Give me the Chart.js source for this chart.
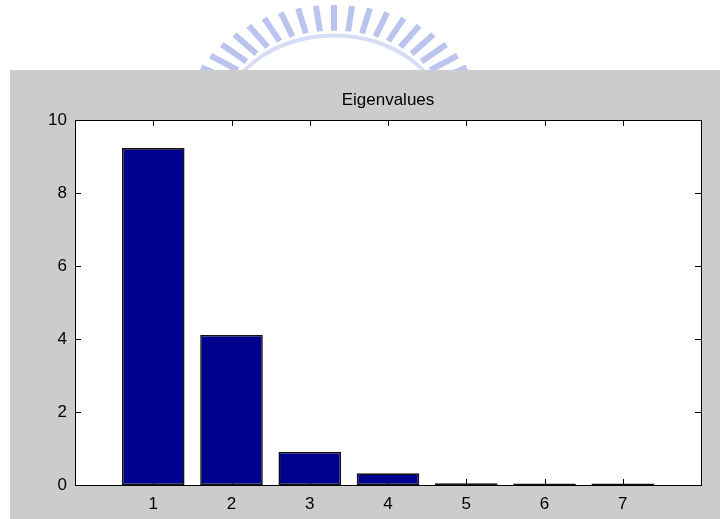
<!DOCTYPE html>
<html>
<head>
<meta charset="utf-8">
<title>Eigenvalues</title>
<script src="https://cdn.jsdelivr.net/npm/chart.js@4.4.0/dist/chart.umd.min.js"></script>
<style>
  html, body { margin: 0; padding: 0; background: #fff; }
  #chart { display: block; }
</style>
</head>
<body>
<canvas id="chart" width="720" height="519"></canvas>
<script>
// --- Data ---
const categories  = [1, 2, 3, 4, 5, 6, 7];
const eigenvalues = [9.23, 4.11, 0.91, 0.32, 0.05, 0.04, 0.04];
const yTicks      = [0, 2, 4, 6, 8, 10];
const xRange      = [0, 8];

const FONT = '"Liberation Sans", Arial, Helvetica, sans-serif';
const FIG_GRAY = '#cccccc';
const BAR_BLUE = '#00008f';

// figure background, watermark, white axes area
const backdrop = {
  id: 'backdrop',
  beforeDraw(chart) {
    const { ctx, chartArea: a } = chart;
    ctx.save();
    ctx.fillStyle = '#fff';
    ctx.fillRect(0, 0, chart.width, chart.height);

    // light blue watermark arch (logo behind the figure)
    ctx.strokeStyle = 'rgba(140,156,226,0.6)';
    ctx.lineWidth = 6;
    const cx = 334, cy = 122, rx = 150, ry = 117;
    for (let i = 0; i <= 26; i++) {
      const t = Math.PI + (i / 26) * Math.PI;
      const c = Math.cos(t), s = Math.sin(t);
      ctx.beginPath();
      ctx.moveTo(cx + c * rx * 0.78, cy + s * ry * 0.78);
      ctx.lineTo(cx + c * rx, cy + s * ry);
      ctx.stroke();
    }
    ctx.strokeStyle = 'rgba(175,188,236,0.5)';
    ctx.lineWidth = 4;
    ctx.beginPath();
    ctx.ellipse(cx, cy, rx * 0.74, ry * 0.74, 0, Math.PI, 2 * Math.PI);
    ctx.stroke();

    ctx.fillStyle = FIG_GRAY;
    ctx.fillRect(10, 70, chart.width - 10, chart.height - 70);

    ctx.fillStyle = '#fff';
    ctx.fillRect(a.left, a.top, a.right - a.left, a.bottom - a.top);
    ctx.restore();
  }
};

// MATLAB style inward ticks on all four sides, drawn under the bars
const insideTicks = {
  id: 'insideTicks',
  beforeDatasetsDraw(chart) {
    const { ctx, chartArea: a, scales: { x, y } } = chart;
    const len = 6;
    ctx.save();
    ctx.strokeStyle = '#000';
    ctx.lineWidth = 1;
    ctx.beginPath();
    yTicks.forEach(v => {
      const py = Math.round(y.getPixelForValue(v)) + 0.5;
      ctx.moveTo(a.left, py);  ctx.lineTo(a.left + len, py);
      ctx.moveTo(a.right, py); ctx.lineTo(a.right - len, py);
    });
    categories.forEach(v => {
      const px = Math.round(x.getPixelForValue(v)) + 0.5;
      ctx.moveTo(px, a.bottom); ctx.lineTo(px, a.bottom - len);
      ctx.moveTo(px, a.top);    ctx.lineTo(px, a.top + len);
    });
    ctx.stroke();
    ctx.restore();
  },
  afterDatasetsDraw(chart) {
    const { ctx, chartArea: a } = chart;
    ctx.save();
    ctx.strokeStyle = '#000';
    ctx.lineWidth = 1;
    ctx.strokeRect(Math.round(a.left) + 0.5, Math.round(a.top) + 0.5,
                   Math.round(a.right - a.left), Math.round(a.bottom - a.top));
    ctx.restore();
  }
};

new Chart(document.getElementById('chart'), {
  type: 'bar',
  data: {
    datasets: [{
      label: 'Eigenvalues',
      data: categories.map((c, i) => ({ x: c, y: eigenvalues[i] })),
      backgroundColor: BAR_BLUE,
      borderColor: '#111',
      borderWidth: 1.6,
      borderSkipped: false,
      barPercentage: 0.8,
      categoryPercentage: 1.0,
    }]
  },
  options: {
    responsive: false,
    animation: false,
    layout: { padding: { left: 0, right: 19, top: 0, bottom: 0 } },
    plugins: {
      legend: { display: false },
      tooltip: { enabled: false },
      title: {
        display: true,
        text: 'Eigenvalues',
        fullSize: false,
        color: '#000',
        font: { family: FONT, size: 17, weight: 'normal', lineHeight: 1.2 },
        padding: { top: 90, bottom: 9.6 }
      }
    },
    scales: {
      x: {
        type: 'linear',
        min: xRange[0],
        max: xRange[1],
        offset: false,
        grid: { display: false, drawTicks: false, offset: false },
        border: { display: false },
        ticks: {
          stepSize: 1,
          padding: 9,
          color: '#000',
          font: { family: FONT, size: 17 },
          callback: v => categories.includes(v) ? String(v) : ''
        },
        afterFit: s => { s.height = 34; }
      },
      y: {
        min: yTicks[0],
        max: yTicks[yTicks.length - 1],
        grid: { display: false, drawTicks: false },
        border: { display: false },
        ticks: {
          stepSize: 2,
          padding: 8,
          color: '#000',
          font: { family: FONT, size: 17 }
        },
        afterFit: s => { s.width = 75; }
      }
    }
  },
  plugins: [backdrop, insideTicks]
});
</script>
</body>
</html>
